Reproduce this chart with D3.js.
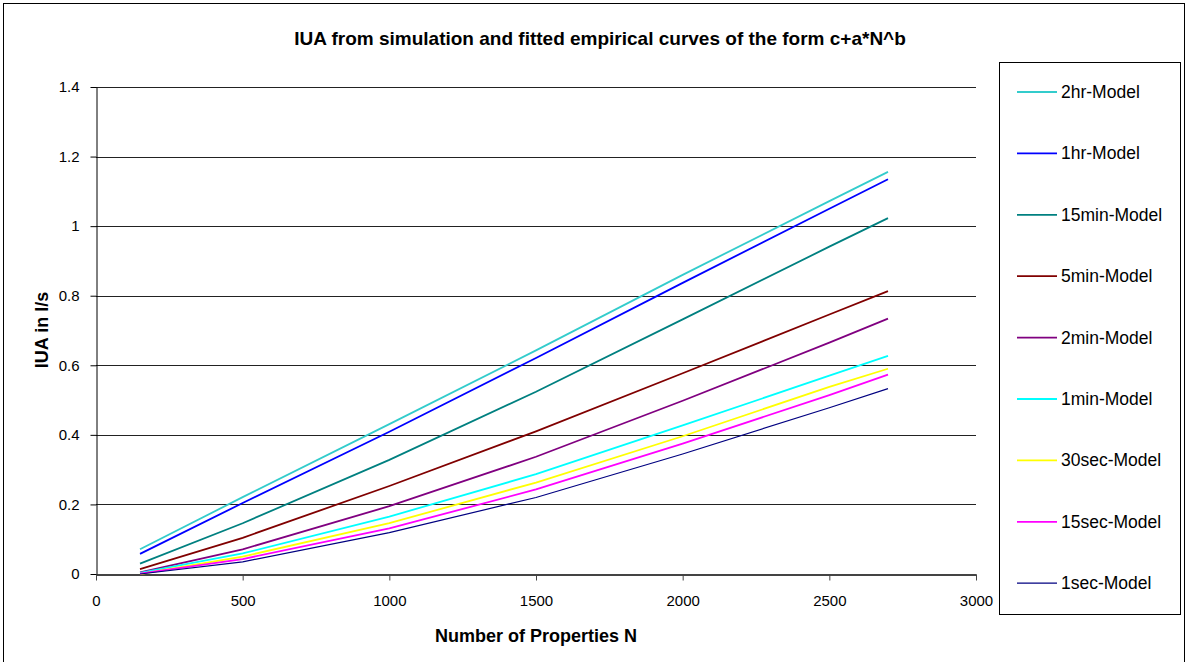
<!DOCTYPE html>
<html>
<head>
<meta charset="utf-8">
<script src="https://cdn.jsdelivr.net/npm/d3@7"></script>
<style>
  body { margin: 0; background: #fff; }
  svg { display: block; font-family: "Liberation Sans", Arial, sans-serif; }
</style>
</head>
<body>
<svg id="chart"></svg>
<script>
var width = 1187, height = 662

// number of properties
var nValues = [150, 500, 1000, 1500, 2000, 2500, 2700]

var seriesNames = ["2hr-Model", "1hr-Model", "15min-Model", "5min-Model", "2min-Model",
                   "1min-Model", "30sec-Model", "15sec-Model", "1sec-Model"]
var seriesColors = ["#33cccc", "#0000ff", "#008080", "#800000", "#800080",
                    "#00ffff", "#ffff00", "#ff00ff", "#000080"]

var model2hr   = [0.071, 0.221, 0.431, 0.643, 0.860, 1.072, 1.156]
var model1hr   = [0.058, 0.204, 0.409, 0.621, 0.837, 1.050, 1.135]
var model15min = [0.030, 0.146, 0.328, 0.524, 0.732, 0.941, 1.023]
var model5min  = [0.014, 0.104, 0.253, 0.410, 0.577, 0.746, 0.813]
var model2min  = [0.005, 0.071, 0.195, 0.337, 0.498, 0.665, 0.734]
var model1min  = [0.003, 0.059, 0.165, 0.287, 0.427, 0.570, 0.627]
var model30sec = [0.000, 0.050, 0.146, 0.263, 0.396, 0.538, 0.590]
var model15sec = [0.001, 0.043, 0.131, 0.243, 0.375, 0.514, 0.573]
var model1sec  = [0.000, 0.035, 0.119, 0.220, 0.345, 0.478, 0.533]

var allSeries = [model2hr, model1hr, model15min, model5min, model2min,
                 model1min, model30sec, model15sec, model1sec]

var xTicks = [0, 500, 1000, 1500, 2000, 2500, 3000]
var yTicks = [0, 0.2, 0.4, 0.6, 0.8, 1, 1.2, 1.4]

var svg = d3.select("#chart")
    .attr("width", width)
    .attr("height", height)

// outer chart border
svg.append("rect")
    .attr("x", 3.5).attr("y", 3.5)
    .attr("width", 1181).attr("height", 700)
    .attr("fill", "white")
    .attr("stroke", "black")
    .attr("stroke-width", 1)

var plot = {left: 96, right: 976, top: 87, bottom: 574}

var x = d3.scaleLinear().domain([0, 3000]).range([plot.left, plot.right])
var y = d3.scaleLinear().domain([0, 1.4]).range([plot.bottom, plot.top])

// gridlines
svg.append("g")
    .selectAll("line")
    .data(yTicks.slice(1))
    .enter()
    .append("line")
        .attr("x1", plot.left).attr("x2", plot.right)
        .attr("y1", function(d) { return Math.round(y(d)) + 0.5 })
        .attr("y2", function(d) { return Math.round(y(d)) + 0.5 })
        .attr("stroke", "#222")
        .attr("stroke-width", 1)

// axes
var xAxis = svg.append("g")
    .attr("transform", "translate(0," + (plot.bottom + 0.5) + ")")
    .call(d3.axisBottom(x).tickValues(xTicks).tickSize(6).tickSizeOuter(0).tickPadding(15)
        .tickFormat(d3.format("d")))
xAxis.select(".domain").attr("stroke", "#444").attr("stroke-width", 2)
xAxis.selectAll(".tick line").attr("stroke", "#444")
xAxis.selectAll("text").attr("font-size", 15).attr("fill", "#000")
    .attr("font-family", "Liberation Sans, Arial, sans-serif")

var yAxis = svg.append("g")
    .attr("transform", "translate(" + (plot.left + 0.5) + ",0)")
    .call(d3.axisLeft(y).tickValues(yTicks).tickSize(6).tickSizeOuter(0).tickPadding(11)
        .tickFormat(function(d) { return d3.format("")(+d.toFixed(1)) }))
yAxis.select(".domain").attr("stroke", "#000")
yAxis.selectAll(".tick line").attr("stroke", "#000")
yAxis.selectAll("text").attr("font-size", 15).attr("fill", "#000")
    .attr("font-family", "Liberation Sans, Arial, sans-serif")

// series lines
var line = d3.line()
    .x(function(d, i) { return x(nValues[i]) })
    .y(function(d) { return y(d) })

svg.append("g")
    .selectAll("path")
    .data(allSeries)
    .enter()
    .append("path")
        .attr("d", line)
        .attr("fill", "none")
        .attr("stroke", function(d, i) { return seriesColors[i] })
        .attr("stroke-width", function(d, i) { return i == 8 ? 1.2 : 1.8 })

// title & axis titles
svg.append("text")
    .attr("x", 600).attr("y", 45)
    .attr("text-anchor", "middle")
    .attr("font-size", 19).attr("font-weight", "bold")
    .text("IUA from simulation and fitted empirical curves of the form c+a*N^b")

svg.append("text")
    .attr("x", 536).attr("y", 642)
    .attr("text-anchor", "middle")
    .attr("font-size", 18).attr("font-weight", "bold")
    .text("Number of Properties N")

svg.append("text")
    .attr("transform", "translate(48,330) rotate(-90)")
    .attr("text-anchor", "middle")
    .attr("font-size", 18).attr("font-weight", "bold")
    .text("IUA in l/s")

// legend
svg.append("rect")
    .attr("x", 999.5).attr("y", 62.5)
    .attr("width", 181).attr("height", 552)
    .attr("fill", "white")
    .attr("stroke", "black")
    .attr("stroke-width", 1)

var items = svg.append("g")
    .selectAll("g")
    .data(seriesNames)
    .enter()
    .append("g")
        .attr("transform", function(d, i) { return "translate(0," + (92 + i * 61.4) + ")" })
items.append("line")
    .attr("x1", 1017).attr("x2", 1057)
    .attr("y1", 0).attr("y2", 0)
    .attr("stroke", function(d, i) { return seriesColors[i] })
    .attr("stroke-width", function(d, i) { return i == 8 ? 1.2 : 1.8 })
items.append("text")
    .attr("x", 1061).attr("y", 6)
    .attr("font-size", 17.5)
    .text(function(d) { return d })
</script>
</body>
</html>
